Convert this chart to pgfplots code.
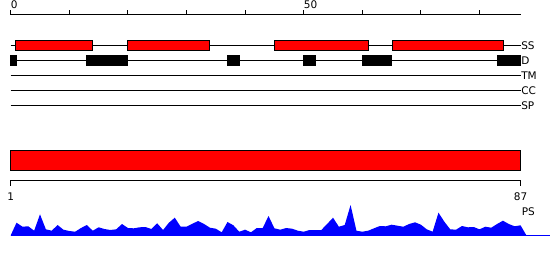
\documentclass[border=0pt]{standalone}
\usepackage{fontspec}
\setmainfont{DejaVu Sans}
\usepackage{pgfplots}
\pgfplotsset{compat=1.18}
\usepackage{pgfplotstable}

\pgfplotstableread{
k h
0 0
1 12.6
2 8.6
3 9
4 4.6
5 21
6 6
7 4.6
8 10.3
9 5.6
10 4.3
11 3.6
12 7.3
13 10.3
14 4.6
15 8
16 6.3
17 5.3
18 6
19 11.3
20 7.3
21 7
22 8
23 8.3
24 6.3
25 12
26 5.3
27 12.6
28 17.6
29 8.6
30 8.6
31 11.6
32 14.3
33 11.3
34 7.6
35 6.6
36 3
37 13.3
38 10
39 3.6
40 5.6
41 3
42 7.3
43 7.3
44 19.3
45 7
46 5.6
47 7.3
48 6.6
49 4.6
50 3.6
51 5.3
52 5.3
53 5.3
54 11.3
55 17.6
56 8.6
57 10.3
58 30.3
59 4.6
60 3.6
61 4.6
62 7
63 9.3
64 9
65 10.6
66 9.6
67 8.6
68 11.3
69 13
70 10.6
71 6
72 3.6
73 22.6
74 13.6
75 6
76 5.6
77 9.3
78 8
79 8.3
80 6
81 8.6
82 7.6
83 11.3
84 14.6
85 11.3
86 9
87 10
88 0
}\ps

\newcommand\lab{\fontsize{10.5}{12.6}\selectfont}

\begin{document}
\begin{tikzpicture}
\begin{axis}[
  scale only axis, width=550pt, height=260pt,
  xmin=-1.826, xmax=92.03, ymin=0, ymax=260, y dir=reverse,
  hide axis, clip=false, unbounded coords=jump,
  every axis plot/.append style={line width=1pt},
]
% top ruler
\addplot[black] coordinates {(0,14.5) (87,14.5)};
\addplot[black] coordinates {(0,10) (0,14.5) (0,nan) (10,10) (10,14.5) (10,nan)
  (20,10) (20,14.5) (20,nan) (30,10) (30,14.5) (30,nan) (40,10) (40,14.5) (40,nan)
  (50,10) (50,14.5) (50,nan) (60,10) (60,14.5) (60,nan) (70,10) (70,14.5) (70,nan)
  (80,10) (80,14.5)};
\node[anchor=base west, inner sep=0pt] at (axis cs:0,8.8) {\lab 0};
\node[anchor=base west, inner sep=0pt] at (axis cs:50,8.8) {\lab 50};

% track lines
\addplot[black] coordinates {(0,45) (87,45)};
\addplot[black] coordinates {(0,60.7) (87,60.7)};
\addplot[black] coordinates {(0,75) (87,75)};
\addplot[black] coordinates {(0,90) (87,90)};
\addplot[black] coordinates {(0,105) (87,105)};

% SS boxes
\addplot[draw=black, fill=red] coordinates {(0.8,40.7) (14,40.7) (14,50.3) (0.8,50.3)} -- cycle;
\addplot[draw=black, fill=red] coordinates {(20,40.7) (34,40.7) (34,50.3) (20,50.3)} -- cycle;
\addplot[draw=black, fill=red] coordinates {(45,40.7) (61,40.7) (61,50.3) (45,50.3)} -- cycle;
\addplot[draw=black, fill=red] coordinates {(65.1,40.7) (84.1,40.7) (84.1,50.3) (65.1,50.3)} -- cycle;

% D boxes
\addplot[draw=black, fill=black] coordinates {(0,55.2) (1,55.2) (1,65.5) (0,65.5)} -- cycle;
\addplot[draw=black, fill=black] coordinates {(13,55.2) (20,55.2) (20,65.5) (13,65.5)} -- cycle;
\addplot[draw=black, fill=black] coordinates {(37,55.2) (39,55.2) (39,65.5) (37,65.5)} -- cycle;
\addplot[draw=black, fill=black] coordinates {(50,55.2) (52,55.2) (52,65.5) (50,65.5)} -- cycle;
\addplot[draw=black, fill=black] coordinates {(60,55.2) (65,55.2) (65,65.5) (60,65.5)} -- cycle;
\addplot[draw=black, fill=black] coordinates {(83,55.2) (87,55.2) (87,65.5) (83,65.5)} -- cycle;

% track labels
\node[anchor=west, inner sep=0pt] at (axis cs:87.1,45.5) {\lab SS};
\node[anchor=west, inner sep=0pt] at (axis cs:87.1,61) {\lab D};
\node[anchor=west, inner sep=0pt] at (axis cs:87.1,75.5) {\lab TM};
\node[anchor=west, inner sep=0pt] at (axis cs:87.1,90.5) {\lab CC};
\node[anchor=west, inner sep=0pt] at (axis cs:87.1,105.5) {\lab SP};

% big bar
\addplot[draw=black, fill=red] coordinates {(0,150.3) (87,150.3) (87,170.3) (0,170.3)} -- cycle;

% second ruler
\addplot[black] coordinates {(0,185.5) (0,180.7) (87,180.7) (87,185.5)};
\node[anchor=base, inner sep=0pt] at (axis cs:0,200) {\lab 1};
\node[anchor=base, inner sep=0pt] at (axis cs:87,200) {\lab 87};
\node[anchor=base west, inner sep=0pt] at (axis cs:87.2,215.2) {\lab PS};

% PS profile
\addplot[blue, line width=1pt] coordinates {(0,235.3) (92.03,235.3)};
\addplot[fill=blue, draw=none] table[x=k, y expr=235.3-\thisrow{h}] {\ps};
\end{axis}
\pgfresetboundingbox
\useasboundingbox (current axis.south west) rectangle (current axis.north east);
\end{tikzpicture}
\end{document}
